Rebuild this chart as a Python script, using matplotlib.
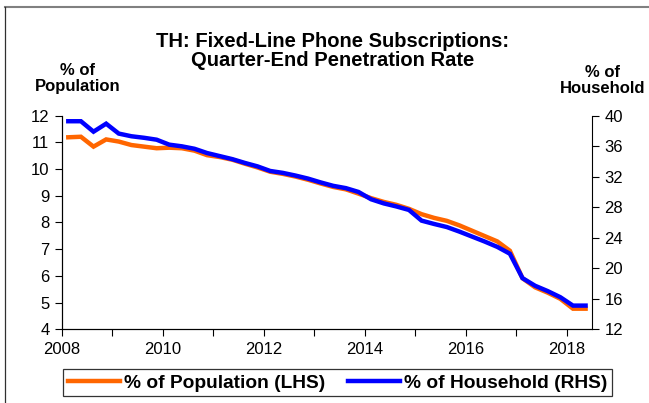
import matplotlib.pyplot as plt
from matplotlib.lines import Line2D
import numpy as np

plt.rcParams['font.family'] = ['Liberation Sans', 'DejaVu Sans']

# quarter-end points, 2008Q1 .. 2018Q2
quarters = 2008.125 + 0.25 * np.arange(42)

# % of population (LHS)
pop = [11.19, 11.21, 10.84, 11.11, 11.03, 10.90, 10.84, 10.78,
       10.80, 10.78, 10.69, 10.52, 10.45, 10.35, 10.20, 10.06,
       9.90, 9.82, 9.72, 9.60, 9.46, 9.33, 9.24, 9.08,
       8.91, 8.77, 8.66, 8.51, 8.31, 8.17, 8.06, 7.89,
       7.69, 7.49, 7.29, 6.94, 5.91, 5.57, 5.37, 5.14,
       4.77, 4.77]

# % of household (RHS)
hh = [39.27, 39.27, 37.90, 38.95, 37.65, 37.30, 37.10, 36.85,
      36.20, 35.98, 35.66, 35.10, 34.70, 34.30, 33.80, 33.35,
      32.75, 32.50, 32.15, 31.75, 31.25, 30.80, 30.50, 30.00,
      29.04, 28.50, 28.10, 27.64, 26.24, 25.80, 25.40, 24.80,
      24.15, 23.50, 22.80, 21.90, 18.70, 17.70, 17.00, 16.20,
      15.10, 15.10]

years = list(range(2008, 2019))
year_labels = [str(y) if y % 2 == 0 else '' for y in years]

fig = plt.figure(figsize=(6.49, 4.03), dpi=100)
ax = fig.add_axes([0.0955, 0.183, 0.8165, 0.530])
ax2 = ax.twinx()

l1, = ax.plot(quarters, pop, color='#FF6600', lw=3.2, solid_joinstyle='miter')
l2, = ax2.plot(quarters, hh, color='#0000FF', lw=3.2, solid_joinstyle='miter')

ax.set_xlim(2008, 2018.5)
ax.set_ylim(4, 12)
ax2.set_ylim(12, 40)
ax.set_yticks(range(4, 13))
ax2.set_yticks(range(12, 41, 4))
ax.set_xticks(years)
ax.set_xticklabels(year_labels)

for a in (ax, ax2):
    a.spines['top'].set_visible(False)
    a.tick_params(labelsize=12, length=5, width=0.8, direction='out', pad=4)
ax.spines['right'].set_visible(False)

fig.text(0.512, 0.874, 'TH: Fixed-Line Phone Subscriptions:\nQuarter-End Penetration Rate',
         ha='center', va='center', fontsize=14.5, fontweight='bold', linespacing=1.0)
fig.text(0.119, 0.805, '% of\nPopulation', ha='center', va='center',
         fontsize=12, fontweight='bold', linespacing=1.05)
fig.text(0.928, 0.800, '% of\nHousehold', ha='center', va='center',
         fontsize=12, fontweight='bold', linespacing=1.05)

leg = fig.legend([l1, l2], ['% of Population (LHS)', '% of Household (RHS)'],
                 loc='center', bbox_to_anchor=(0.52, 0.05), ncol=2,
                 frameon=True, fancybox=False, edgecolor='black',
                 prop={'size': 13.8, 'weight': 'bold'}, handlelength=2.7,
                 handletextpad=0.2, columnspacing=1.2, borderpad=0.25,
                 borderaxespad=0.0)
leg.get_frame().set_linewidth(0.9)
leg._legend_box.sep = 0
leg.borderpad = 0.25

# outer frame lines (partially visible border)
fig.add_artist(Line2D([0.008, 1.0], [0.982, 0.982], color='#808080', lw=1.5,
                      transform=fig.transFigure))
fig.add_artist(Line2D([0.008, 0.008], [0.0, 0.982], color='#303030', lw=0.9,
                      transform=fig.transFigure))

fig.savefig('out.png', dpi=100)
